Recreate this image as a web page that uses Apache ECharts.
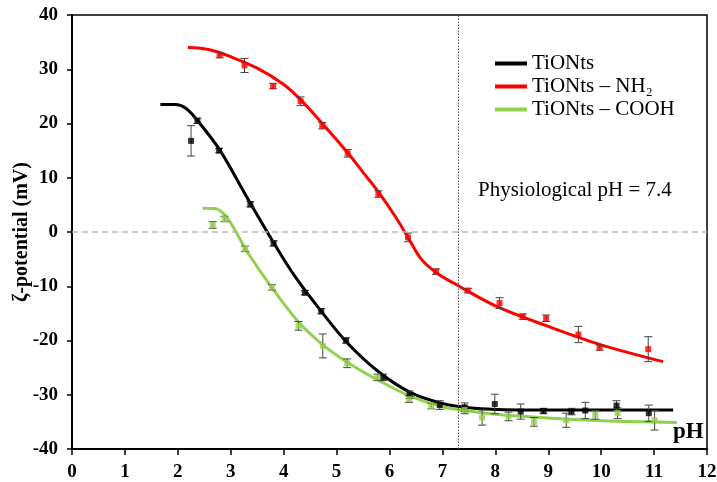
<!DOCTYPE html>
<html>
<head>
<meta charset="utf-8">
<script src="https://cdn.jsdelivr.net/npm/echarts@6/dist/echarts.min.js"></script>
<style>html,body{margin:0;padding:0;background:#fff;}#c{width:717px;height:482px;}</style>
</head>
<body>
<div id="c"></div>
<script>
// Series names
const seriesNames = ['TiONts', 'TiONts – NH₂', 'TiONts – COOH'];

// Measured points: [pH, zeta, error]
const tiontsPts = [[2.25,16.8,2.8],[2.37,20.5,0.5],[2.78,15.0,0.4],[3.37,5.1,0.5],[3.81,-2.1,0.5],[4.40,-11.2,0.4],[4.71,-14.6,0.5],[5.18,-20.0,0.5],[5.88,-26.8,0.6],[6.38,-30.0,0.7],[6.95,-31.9,0.8],[7.42,-32.3,0.8],[7.99,-31.7,1.8],[8.48,-33.1,1.4],[8.91,-33.0,0.5],[9.44,-33.1,0.6],[9.70,-32.9,1.5],[10.29,-32.0,0.9],[10.90,-33.4,1.5]];
const nh2Pts = [[2.79,32.6,0.5],[3.26,30.7,1.3],[3.80,26.9,0.5],[4.32,24.1,0.8],[4.73,19.6,0.6],[5.21,14.5,0.7],[5.79,7.0,0.6],[6.35,-1.0,0.8],[6.88,-7.3,0.5],[7.48,-10.8,0.4],[8.08,-13.1,1.0],[8.52,-15.6,0.5],[8.96,-15.9,0.6],[9.57,-18.9,1.5],[9.97,-21.3,0.5],[10.89,-21.6,2.3]];
const coohPts = [[2.66,1.3,0.6],[2.88,2.4,0.5],[3.27,-3.1,0.5],[3.78,-10.2,0.5],[4.28,-17.3,0.8],[4.74,-21.0,2.2],[5.20,-24.2,0.8],[5.77,-26.8,0.6],[6.37,-30.8,0.6],[6.79,-32.1,0.5],[7.42,-32.8,0.7],[7.75,-34.2,1.4],[8.25,-34.0,0.8],[8.73,-35.0,0.8],[9.34,-34.7,1.3],[9.89,-33.7,0.8],[10.31,-33.4,1.0],[11.01,-34.7,1.8]];

// Fitted curves: [pH, zeta]
const tiontsFit = [[1.67,23.5],[1.95,23.5],[2.15,22.8],[2.4,20.2],[2.8,15.0],[3.3,6.5],[3.8,-1.8],[4.2,-8.0],[4.7,-14.5],[5.2,-20.4],[5.8,-25.8],[6.4,-29.6],[7.0,-31.6],[7.5,-32.4],[8.0,-32.7],[9.0,-32.8],[10.0,-32.8],[11.36,-32.8]];
const nh2Fit = [[2.19,34.0],[2.6,33.6],[3.0,32.3],[3.5,30.2],[4.0,27.2],[4.32,24.4],[4.73,20.0],[5.21,14.6],[5.5,11.0],[5.79,7.4],[6.1,3.0],[6.35,-1.0],[6.6,-5.0],[6.9,-7.6],[7.3,-9.9],[8.0,-13.6],[9.0,-17.4],[10.0,-20.8],[11.17,-23.9]];
const coohFit = [[2.47,4.4],[2.72,4.3],[2.9,3.0],[3.1,0.0],[3.3,-3.5],[3.78,-10.3],[4.28,-16.6],[4.74,-20.8],[5.2,-24.0],[5.8,-27.4],[6.4,-30.3],[7.0,-32.2],[7.5,-33.0],[8.0,-33.6],[9.0,-34.3],[10.0,-34.8],[11.43,-35.1]];

const physiologicalPH = 7.3;
const annotation = 'Physiological pH = 7.4';
const xTitle = 'pH';
const yTitle = 'ζ-potential (mV)';

const colors = ['#000000', '#ff0000', '#92d050'];
const FONT = '"Liberation Serif", "Times New Roman", serif';

function errRender(params, api) {
  const x = api.value(0), y = api.value(1), e = api.value(2);
  const lo = api.coord([x, y - e]);
  const hi = api.coord([x, y + e]);
  const cw = 4;
  const st = { stroke: '#444', lineWidth: 1 };
  return {
    type: 'group',
    children: [
      { type: 'line', shape: { x1: lo[0], y1: lo[1], x2: hi[0], y2: hi[1] }, style: st },
      { type: 'line', shape: { x1: lo[0] - cw, y1: lo[1], x2: lo[0] + cw, y2: lo[1] }, style: st },
      { type: 'line', shape: { x1: hi[0] - cw, y1: hi[1], x2: hi[0] + cw, y2: hi[1] }, style: st }
    ]
  };
}

const fits = [tiontsFit, nh2Fit, coohFit];
const pts = [tiontsPts, nh2Pts, coohPts];

const series = [];
fits.forEach((f, i) => {
  series.push({
    name: seriesNames[i], type: 'line', data: f, smooth: 0.35, showSymbol: false,
    lineStyle: { color: colors[i], width: 3 }, itemStyle: { color: colors[i] },
    z: 3,
    markLine: i === 0 ? {
      silent: true, symbol: 'none', label: { show: false },
      data: [
        { xAxis: physiologicalPH, lineStyle: { color: '#555', type: [1.5, 1.5], width: 1 } },
        { yAxis: 0, lineStyle: { color: '#bbbbbb', type: [6, 4], width: 1.5 } }
      ]
    } : undefined
  });
});
pts.forEach((p, i) => {
  series.push({
    name: seriesNames[i] + ' err', type: 'custom', renderItem: errRender,
    data: p, z: 4, silent: true
  });
  series.push({
    name: seriesNames[i] + ' pts', type: 'scatter', data: p.map(d => [d[0], d[1]]),
    symbol: 'rect', symbolSize: 6, itemStyle: { color: colors[i] }, z: 5
  });
});

const chart = echarts.init(document.getElementById('c'), null, { renderer: 'canvas' });
chart.setOption({
  animation: false,
  backgroundColor: '#fff',
  grid: { left: 72, right: 10, top: 15, bottom: 33, containLabel: false, outerBoundsMode: 'none', show: true, borderColor: '#000', borderWidth: 1.5, backgroundColor: 'transparent' },
  legend: {
    data: seriesNames, orient: 'vertical', left: 490, top: 48,
    itemWidth: 32, itemHeight: 4, itemGap: 2, icon: 'rect',
    textStyle: { fontFamily: FONT, fontSize: 21, color: '#000', lineHeight: 21 }
  },
  xAxis: {
    type: 'value', min: 0, max: 12, interval: 1,
    axisLine: { show: true, onZero: false, lineStyle: { color: '#000', width: 2 } },
    axisTick: { show: true, inside: false, length: 6, lineStyle: { color: '#000', width: 1.5 } },
    axisLabel: { fontFamily: FONT, fontSize: 19, fontWeight: 'bold', color: '#000', margin: 14 },
    splitLine: { show: false }
  },
  yAxis: {
    type: 'value', min: -40, max: 40, interval: 10,
    name: yTitle, nameLocation: 'middle', nameGap: 40, nameMoveOverlap: false,
    nameTextStyle: { fontFamily: FONT, fontSize: 20, fontWeight: 'bold', color: '#000' },
    axisLine: { show: true, onZero: false, lineStyle: { color: '#000', width: 2 } },
    axisTick: { show: true, inside: false, length: 5, lineStyle: { color: '#000', width: 1.5 } },
    axisLabel: { fontFamily: FONT, fontSize: 19, fontWeight: 'bold', color: '#000', margin: 14 },
    splitLine: { show: false }
  },
  graphic: [{
    type: 'text', left: 478, top: 180,
    style: { text: annotation, font: '21px ' + FONT, fill: '#000' }
  }, {
    type: 'text', left: 673, top: 421,
    style: { text: xTitle, font: 'bold 23px ' + FONT, fill: '#000' }
  }],
  series: series
});
</script>
</body>
</html>
